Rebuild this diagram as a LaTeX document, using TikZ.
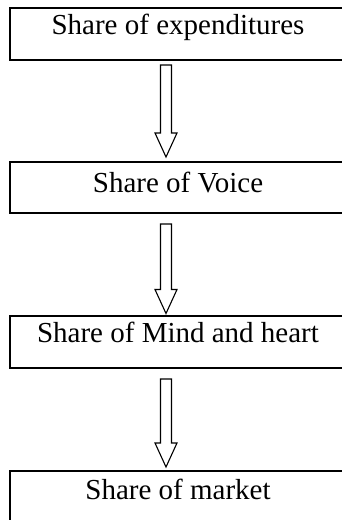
\documentclass[tikz,border=0pt]{standalone}
\usepackage{fontspec}
\setmainfont{Liberation Serif}
\usetikzlibrary{calc}
\tikzset{
  box/.style={draw, line width=2pt, rectangle, minimum width=336pt, inner sep=0pt},
  lbl/.style={anchor=base, inner sep=0pt, font=\fontsize{29}{34}\selectfont},
  blk/.style={draw, line width=1.1pt, line join=miter, fill=white}
}
% block arrow from coordinate #1 (top of shaft) down to coordinate #2 (tip)
\newcommand{\blockarrow}[2]{%
  \draw[blk] let \p1=(#1), \p2=(#2) in
    (\x1-5.5pt,\y1) -- (\x1-5.5pt,\y2+24pt) -- (\x1-11pt,\y2+24pt) -- (\x1,\y2)
    -- (\x1+11pt,\y2+24pt) -- (\x1+5.5pt,\y2+24pt) -- (\x1+5.5pt,\y1) -- cycle;}
\begin{document}
\begin{tikzpicture}[x=1pt,y=-1pt]
\useasboundingbox (0,0) rectangle (342,520);

% the four stages
\node[box, minimum height=52pt] (b1) at (178,34) {};
\node[box, minimum height=51pt] (b2) at (178,187.5) {};
\node[box, minimum height=52pt] (b3) at (178,342) {};
\node[box, minimum height=52pt] (b4) at (178,497) {};

\node[lbl] (t1) at ($(b1.north)+(0,27)$) {Share of expenditures};
\node[lbl] (t2) at ($(b2.north)+(0,31)$) {Share of Voice};
\node[lbl] (t3) at ($(b3.north)+(0,27)$) {Share of Mind and heart};
\node[lbl] (t4) at ($(b4.north)+(0,29)$) {Share of market};

% hollow arrows between the stages
\coordinate (a1s) at ($(b1.south)+(-12,4)$);
\coordinate (a1e) at ($(b2.north)+(-12,-4)$);
\coordinate (a2s) at ($(b2.south)+(-12,10)$);
\coordinate (a2e) at ($(b3.north)+(-12,-1.5)$);
\coordinate (a3s) at ($(b3.south)+(-12,10)$);
\coordinate (a3e) at ($(b4.north)+(-12,-3)$);
\blockarrow{a1s}{a1e}
\blockarrow{a2s}{a2e}
\blockarrow{a3s}{a3e}
\end{tikzpicture}
\end{document}
